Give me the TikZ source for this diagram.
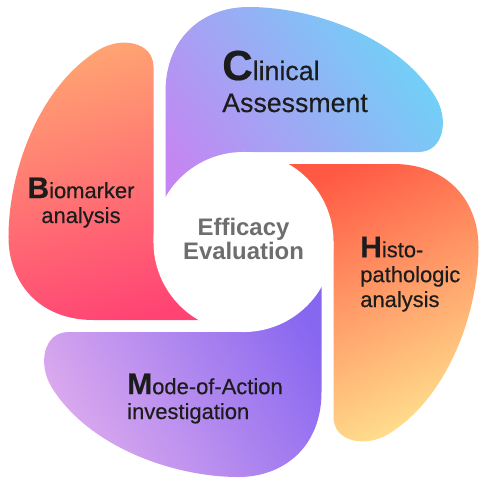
\documentclass[tikz,border=0pt]{standalone}
\usepackage{fontspec}
\setmainfont{Liberation Sans}
\newfontfamily\petalfont[FakeBold=0.4]{Liberation Sans}
\usepackage{tikz}
\definecolor{skyblue}{HTML}{6ED3F7}
\definecolor{lilac}{HTML}{C486F2}
\definecolor{tomato}{HTML}{FF5843}
\definecolor{butter}{HTML}{FFE08E}
\definecolor{lavender}{HTML}{DCAAEE}
\definecolor{deepviolet}{HTML}{8766F0}
\definecolor{peach}{HTML}{FFA572}
\definecolor{rosered}{HTML}{FF4474}
\definecolor{inkgray}{HTML}{6E6E6E}
\definecolor{ink}{HTML}{1C1C1C}

% one petal, drawn for the top; the others are turned copies
\newcommand\petalpath{(-78,0) -- (-78,150) .. controls (-78,205) and (-40,235) .. (5,235)
  .. controls (70,235) and (155,205) .. (192,145) .. controls (206,122) and (200,90) .. (175,90)
  -- (0,90) -- (0,0) -- cycle}
\newcommand\firstletter[2]{{\fontsize{#2}{#2}\selectfont\bfseries #1}}

\begin{document}
\begin{tikzpicture}[x=0.025cm, y=0.025cm,
  lbl/.style={text=ink, align=left, inner sep=0pt},
  small/.style={font=\petalfont\fontsize{15.6}{17.7}\selectfont},
  large/.style={font=\petalfont\fontsize{19}{22.7}\selectfont},
  core/.style={circle, fill=white, minimum size=4.5cm, inner sep=0pt},
  ctr/.style={text=inkgray, align=center, inner sep=0pt, font=\bfseries\fontsize{17}{17.7}\selectfont}
]
  \useasboundingbox (-243.5,-246) rectangle (246.5,242);

  % petals
  \shade[top color=skyblue, bottom color=lilac, shading angle=-55] \petalpath;
  \shade[rotate=-90, top color=tomato, bottom color=butter, shading angle=25] \petalpath;
  \shade[rotate=180, top color=deepviolet, bottom color=lavender, shading angle=-60] \petalpath;
  \shade[rotate=90, top color=peach, bottom color=rosered, shading angle=15] \petalpath;

  \node[core] (core) at (0,0) {};
  \node[ctr] (efficacy) at (0,3) {Efficacy\\Evaluation};

  % labels: the base anchor sits on the last line
  \node[lbl, large, anchor=base west] (clinical) at (-21.5,130) {\firstletter{C}{30}linical\\Assessment};
  \node[lbl, small, align=center, anchor=base] (biomarker) at (-162.5,19) {\firstletter{B}{21.3}iomarker\\analysis};
  \node[lbl, small, anchor=base west] (histo) at (116.5,-65) {\firstletter{H}{21.3}isto-\\pathologic\\analysis};
  \node[lbl, small, anchor=base west] (moa) at (-116.5,-177) {\firstletter{M}{21.3}ode-of-Action\\investigation};
\end{tikzpicture}
\end{document}
